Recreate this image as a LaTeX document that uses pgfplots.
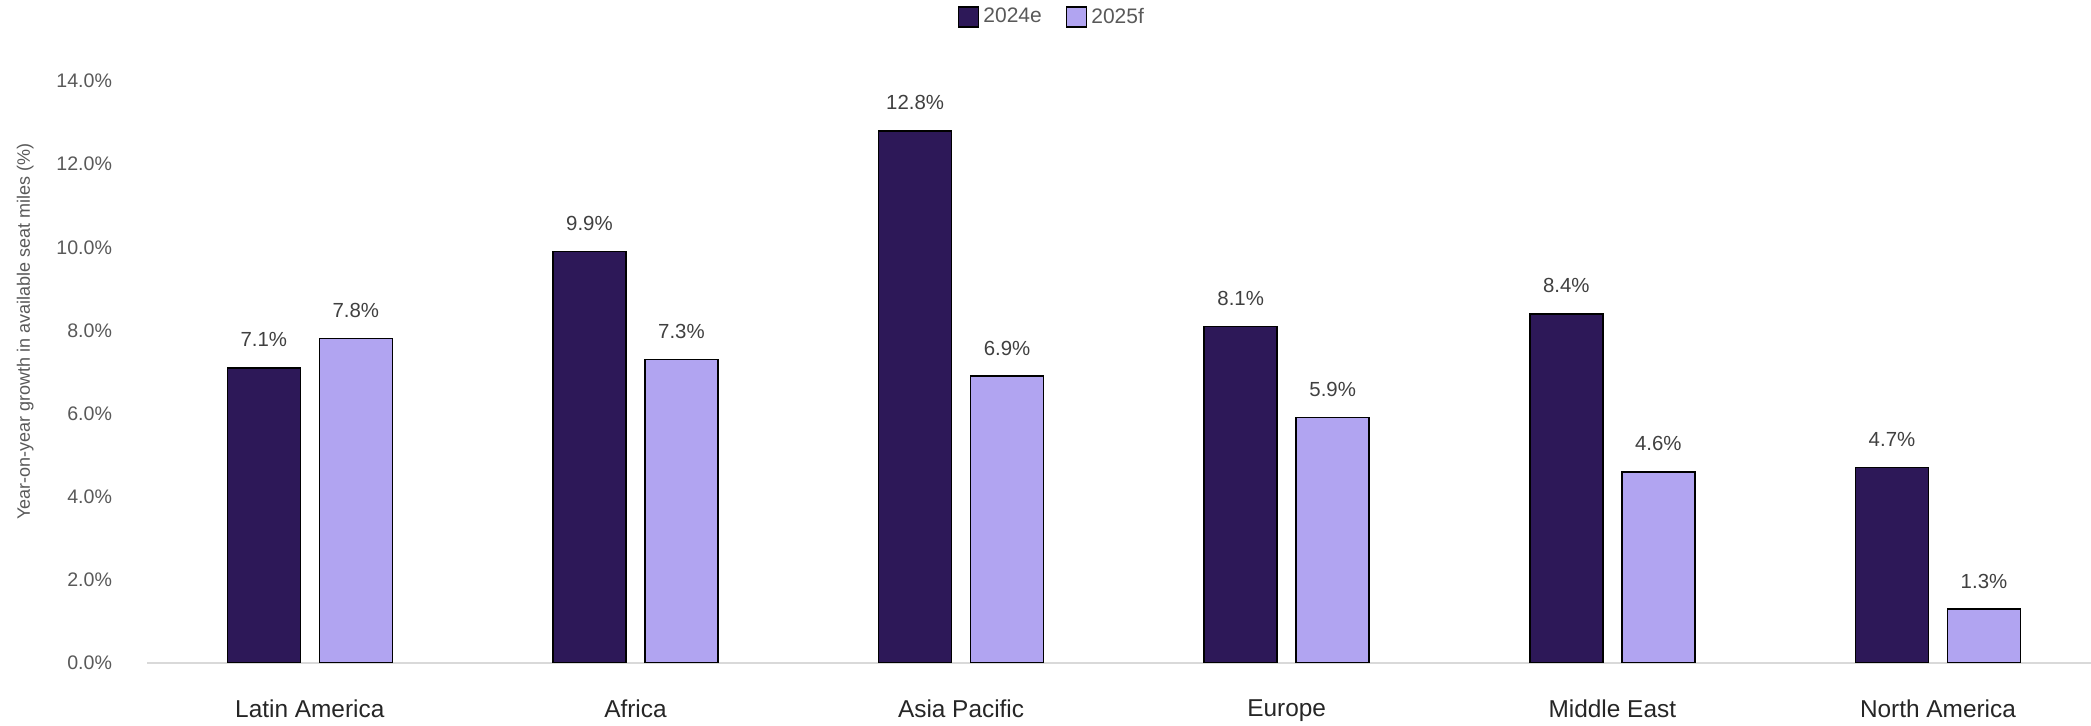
\documentclass[border=0pt]{standalone}
\usepackage{pgfplots}
\pgfplotsset{compat=1.18}
\usepackage{fontspec}
\setmainfont{Liberation Sans}
\definecolor{darkbar}{RGB}{45,24,88}
\definecolor{lightbar}{RGB}{177,164,241}
\definecolor{tickgray}{RGB}{89,89,89}
\definecolor{labgray}{RGB}{64,64,64}
\definecolor{axgray}{RGB}{217,217,217}
\begin{document}
\begin{tikzpicture}
\path[use as bounding box] (0,0) rectangle (1045.5pt,363pt);
\begin{axis}[
  at={(73.5pt,31.5pt)}, anchor=south west,
  scale only axis, width=972pt, height=291pt,
  xmin=-0.5, xmax=5.47, ymin=0, ymax=14,
  axis x line*=bottom, axis y line*=left,
  x axis line style={draw=axgray, line width=0.8pt, -},
  y axis line style={draw=none},
  major tick length=0pt,
  /pgf/number format/assume math mode=true,
  ytick={0,2,...,14},
  yticklabel={\pgfmathprintnumber[fixed,fixed zerofill,precision=1]{\tick}\%},
  yticklabel style={font=\fontsize{9.8}{11}\selectfont, text=tickgray, xshift=-14pt},
  xtick={0,1,2,3,4,5},
  xticklabels={Latin America, Africa, Asia Pacific, Europe, Middle East, North America},
  xticklabel style={font=\fontsize{12.2}{14}\selectfont, text=black!85, yshift=-15pt},
  ylabel={Year-on-year growth in available seat miles (\%)},
  ylabel style={at={(axis description cs:-0.0627,0.57)}, anchor=center, font=\fontsize{9}{10}\selectfont, text=tickgray},
  ybar, bar width=36.5pt,
  nodes near coords={\pgfmathprintnumber[fixed,fixed zerofill,precision=1]{\pgfplotspointmeta}\%},
  every node near coord/.append style={font=\fontsize{10.2}{12}\selectfont, text=labgray, anchor=south, inner sep=0pt, yshift=10pt},
  legend columns=2,
  legend style={at={(axis description cs:0.466,1.11)}, anchor=center, draw=none, fill=none,
    font=\fontsize{10.5}{12}\selectfont, text=tickgray,
    /tikz/every even column/.append style={column sep=10pt}},
  legend image code/.code={\draw[#1, draw=black, line width=0.75pt] (0pt,-5pt) rectangle (10pt,5pt);},
]
\addplot[fill=darkbar, draw=black, line width=0.75pt, bar shift=-23pt] coordinates {
  (0,7.1) (1,9.9) (2,12.8) (3,8.1) (4,8.4) (5,4.7)};
\addplot[fill=lightbar, draw=black, line width=0.75pt, bar shift=23pt] coordinates {
  (0,7.8) (1,7.3) (2,6.9) (3,5.9) (4,4.6) (5,1.3)};
\legend{2024e, 2025f}
\end{axis}
\end{tikzpicture}
\end{document}
